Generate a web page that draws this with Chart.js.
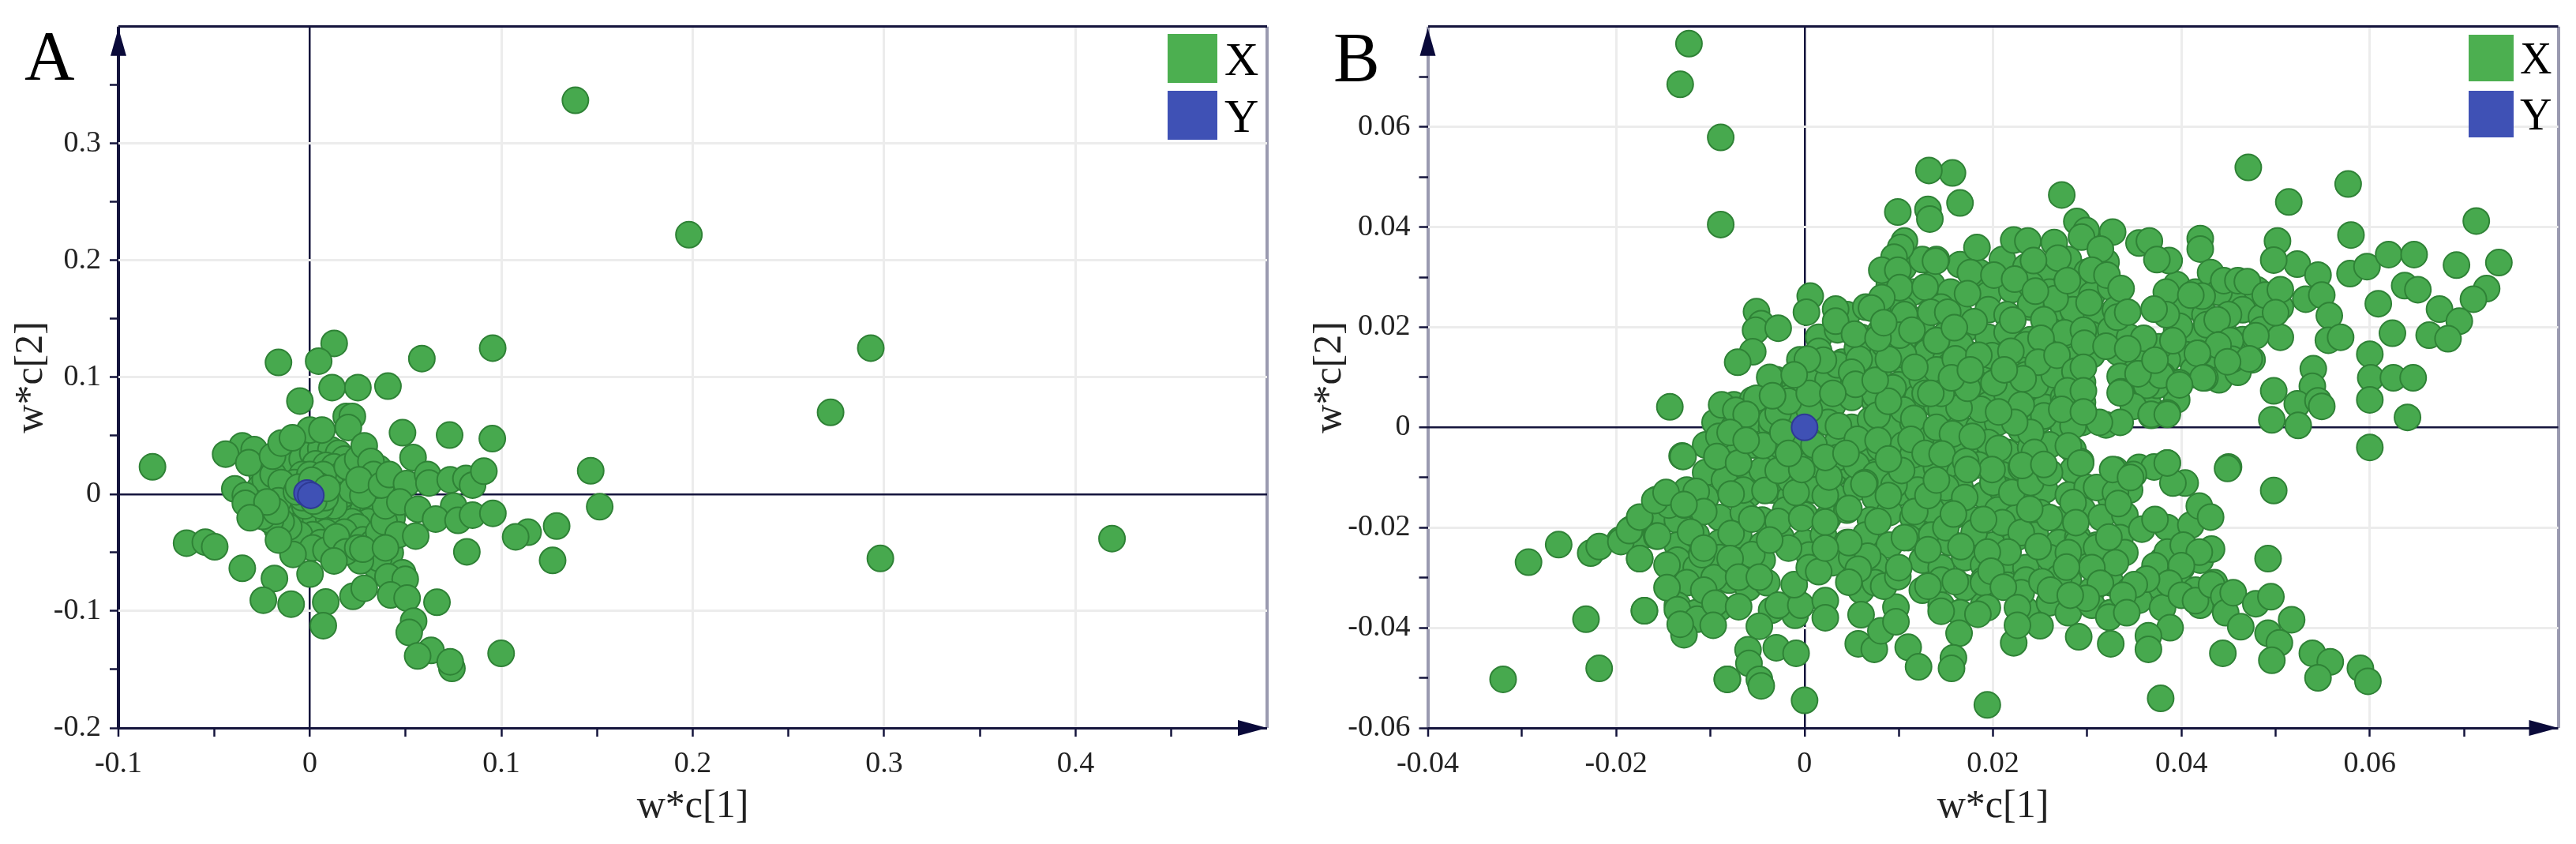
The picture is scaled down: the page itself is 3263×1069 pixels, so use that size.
<!DOCTYPE html>
<html>
<head>
<meta charset="utf-8">
<title>w*c loadings</title>
<script src="https://cdn.jsdelivr.net/npm/chart.js@4/dist/chart.umd.js"></script>
<style>
body{margin:0;background:#fff;}
canvas{position:absolute;top:0;}
#chartA{left:0;}
#chartB{left:1640px;}
</style>
</head>
<body>
<canvas id="chartA" width="1660" height="1069"></canvas>
<canvas id="chartB" width="1623" height="1069"></canvas>
<script>
var seriesNames=["X","Y"];
var xLabel="w*c[1]";
var yLabel="w*c[2]";

/*------------------ panel A ------------------*/
var xTicksA=[-0.1,0,0.1,0.2,0.3,0.4];
var yTicksA=[-0.2,-0.1,0,0.1,0.2,0.3];
var ringsA=[[.012,.012],[.015,.004],[.013,-.004],[.014,-.013],[.006,-.016],[-.001,-.014],[-.007,-.011],[-.012,-.005],[-.013,.006],[-.01,.016],[-.005,.022],[.002,.022],[.008,.02],[.014,.017],[.018,.009],[.021,-.002],[.019,-.014],[.012,-.025],[.004,-.027],[-.004,-.026],[-.012,-.02],[-.018,-.009],[-.019,.004],[-.016,.017],[-.011,.027],[-.004,.036],[.004,.042],[.012,.03],[.02,.018],[.026,.006],[.028,-.009],[.024,-.02],[.017,-.028],[.013,-.04],[.004,-.039],[-.003,-.042],[-.011,-.038],[-.017,-.03],[-.025,-.012],[-.028,0],[-.025,.017],[-.02,.026],[.03,.012],[.032,-.004],[.034,-.022],[.03,-.032],[.022,-.042],[.017,-.05],[.03,-.052],[.035,-.062],[.042,-.05],[.04,-.038],[.043,-.02],[.044,-.003],[.036,.022]];
var coreA=[[-.008,.026],[-.004,.03],[.0015,.035],[.0057,.039],[.011,.038],[.015,.035],[.018,.03],[.003,.026],[.0084,.0246],[.0126,.0235],[.0167,.0168],[.0195,.01],[-.004,.0168],[-.008,.01],[-.011,.001],[-.01,-.008],[-.008,-.0168],[-.0026,-.0213],[.003,-.0213],[.0098,-.02],[.0153,-.0157],[.0195,-.01],[.025,-.0078],[.0277,-.0146],[.033,-.0146],[.0305,-.0235],[.022,-.0235],[.025,-.028],[.018,-.0325],[.0084,-.0325],[.0015,-.0347],[-.0054,-.0347],[-.011,-.028],[-.015,-.0235],[-.0205,-.0224],[-.0247,-.019],[-.026,.0056],[-.0233,.0123],[-.0192,.0168],[-.015,.01],[-.0164,-.0056],[-.0178,-.0146],[.0057,-.0414],[.0015,-.0459],[.0084,-.048],[.0277,-.039],[.033,-.0414],[.036,-.0325],[.0388,-.0235],[.0395,-.01],[.0346,.0078],[.036,-.055],[.0264,-.057],[-.0026,.0078],[.0057,.0078],[.011,.0078],[.0167,-.001],[.0126,-.01],[-.0026,-.01],[.0057,-.01],[0,.0168],[.007,.0168],[.022,.0034],[.0277,-.001],[.0195,.0235],[.025,.03],[.002,.002],[-.003,.004],[.004,-.004],[-.004,-.003],[.006,.001],[-.007,.002],[.008,-.003],[-.006,.006],[.005,.007],[.002,-.006],[.001,.012],[.009,.005]];
var outerA=[[.0127,.129],[-.0164,.1127],[.0046,.1138],[.0585,.116],[.0955,.125],[.0116,.0912],[.0251,.0912],[.0408,.0925],[-.0052,.0797],[.019,.0665],[.0222,.0665],[.0201,.0571],[0,.0549],[.0063,.0549],[.0484,.0526],[.073,.0506],[.0953,.0475],[-.0353,.0414],[-.0291,.0381],[-.044,.0343],[-.0319,.0269],[-.0195,.0325],[-.015,.0437],[-.0091,.0482],[.0284,.0414],[.0539,.0314],[.0319,.028],[.0333,.0168],[.0257,.0123],[.0374,.0078],[.0415,.0168],[.0505,.009],[.0615,.0168],[.0622,.0096],[.0733,.0123],[.0815,.0134],[.085,.0078],[.0909,.0197],[-.0392,.0045],[-.0337,-.0011],[-.0337,-.0078],[-.0224,-.0067],[-.0312,-.0202],[.047,-.0067],[.0564,-.0128],[.0751,-.0101],[.0657,-.0213],[.0774,-.0224],[.085,-.0179],[.0956,-.0164],[.114,-.0325],[.1075,-.0365],[.1289,-.0273],[.1268,-.0567],[.082,-.0493],[.0461,-.0347],[.0553,-.0358],[.0139,-.0365],[-.0088,-.0515],[.0188,-.0493],[-.0164,-.0392],[.025,-.0459],[.0277,-.047],[.0395,-.0459],[.0126,-.0571],[.0484,-.0672],[.0408,-.0706],[.0498,-.0728],[.0001,-.0683],[-.0185,-.0721],[-.0353,-.0634],[-.0243,-.0907],[-.0098,-.0941],[.0083,-.0923],[.007,-.1125],[.0225,-.0874],[.0284,-.0806],[.0422,-.0862],[.0508,-.0889],[.0664,-.0925],[.0542,-.1086],[.0519,-.1183],[.0633,-.1337],[.0563,-.1384],[.0742,-.149],[.0733,-.1434],[.0999,-.1362],[-.0644,-.0419],[-.0546,-.041],[-.0497,-.045],[-.0822,.0234],[.1467,.02],[.1514,-.0107],[.1387,.337],[.198,.222],[.293,.125],[.272,.07],[.298,-.055],[.419,-.038]];
var yPointsA=[[-.0015,.001],[.0005,-.001]];

/*------------------ panel B ------------------*/
var xTicksB=[-0.04,-0.02,0,0.02,0.04,0.06];
var yTicksB=[-0.06,-0.04,-0.02,0,0.02,0.04,0.06];
var denseB=[
[.0105,.032],[.0125,.0335],[.0165,.0325],[.0185,.031],[.021,.0335],[.0235,.032],[.0255,.0315],[.028,.0335],[.03,.031],[.032,.033],
[.009,.0285],[.0115,.027],[.0135,.0285],[.0155,.027],[.018,.0285],[.0195,.0265],[.022,.0275],[.024,.0285],[.026,.027],[.0285,.0285],[.0305,.0265],[.0325,.028],[.0395,.0285],[.0415,.027],[.0435,.0285],[.0455,.0265],[.048,.0275],
[.0045,.0225],[.0065,.024],[.0085,.0225],[.0105,.0235],[.0125,.0215],[.0145,.024],[.0165,.0225],[.0195,.0235],[.0215,.0225],[.024,.024],[.026,.022],[.0285,.0235],[.031,.0225],[.033,.0235],[.0385,.0225],[.0405,.024],[.0425,.0225],[.0465,.0235],[.0485,.022],[.0505,.024],
[.0015,.018],[.0035,.0195],[.006,.018],[.008,.019],[.0105,.0175],[.0125,.019],[.015,.0185],[.017,.0195],[.0195,.018],[.0215,.019],[.024,.0175],[.026,.0195],[.028,.018],[.0305,.0185],[.0325,.0195],[.0345,.018],[.0395,.0195],[.0415,.018],[.0445,.019],[.0465,.0175],[.0485,.0195],[.0505,.018],
[-.0005,.0135],[.0015,.0145],[.004,.013],[.006,.015],[.0085,.014],[.0105,.013],[.013,.015],[.015,.0135],[.0175,.0145],[.0195,.013],[.022,.0145],[.024,.014],[.0265,.015],[.0285,.013],[.0305,.0145],[.0345,.0145],[.0365,.013],[.0405,.0145],[.043,.0135],[.0455,.015],[.0475,.0135],
[-.003,.0095],[-.001,.0085],[.001,.0105],[.0035,.009],[.0055,.0105],[.008,.0095],[.01,.0085],[.0125,.0105],[.0145,.009],[.017,.0105],[.019,.0095],[.0215,.0085],[.0235,.0105],[.026,.009],[.028,.0105],[.0295,.009],[.0345,.0095],[.0365,.0105],[.0395,.009],[.0415,.0105],[.044,.0095],[.046,.011],
[-.0075,.0045],[-.0055,.0055],[-.0035,.004],[-.0015,.006],[.0005,.005],[.003,.0045],[.005,.006],[.0075,.005],[.0095,.004],[.012,.006],[.014,.0045],[.0165,.0055],[.0185,.0045],[.021,.006],[.023,.005],[.0255,.004],[.0275,.006],[.0295,.005],[.0345,.006],[.0365,.0045],[.0395,.0055],
[-.0095,.001],[-.0075,0],[-.0055,.0015],[-.0035,0],[-.0015,.001],[.0005,-.0005],[.0025,.001],[.005,0],[.007,.0015],[.0095,0],[.0115,.001],[.014,-.0005],[.016,.0015],[.0185,0],[.0205,.001],[.023,-.0005],[.025,.0015],[.0275,0],[.0295,.001],[.032,.0005],
[-.0095,-.004],[-.0075,-.0055],[-.0055,-.0035],[-.003,-.005],[-.001,-.0035],[.0015,-.0045],[.0035,-.003],[.006,-.0055],[.008,-.004],[.0105,-.0035],[.0125,-.005],[.015,-.0035],[.017,-.0045],[.0195,-.003],[.0215,-.005],[.024,-.004],[.026,-.0035],[.0285,-.0045],
[-.0105,-.009],[-.008,-.0075],[-.006,-.0095],[-.004,-.008],[-.0015,-.009],[.0005,-.0075],[.003,-.0095],[.005,-.008],[.0075,-.009],[.0095,-.0075],[.012,-.0095],[.014,-.008],[.0165,-.009],[.0185,-.0075],[.021,-.0095],[.023,-.008],[.0255,-.009],[.0285,-.0085],[.033,-.0085],[.0355,-.008],
[-.0125,-.0125],[-.0105,-.014],[-.008,-.012],[-.006,-.0135],[-.0035,-.0125],[-.0015,-.014],[.001,-.0125],[.003,-.0135],[.0055,-.012],[.0075,-.014],[.01,-.013],[.012,-.0125],[.0145,-.014],[.0165,-.012],[.019,-.0135],[.021,-.0125],[.0235,-.014],[.0255,-.0125],[.028,-.0135],[.03,-.012],[.0325,-.014],[.0345,-.0125],
[-.0155,-.017],[-.0135,-.0185],[-.011,-.0165],[-.009,-.018],[-.0065,-.017],[-.0045,-.0185],[-.002,-.0165],[0,-.0175],[.0025,-.018],[.0045,-.0165],[.007,-.0185],[.009,-.017],[.0115,-.018],[.0135,-.0165],[.016,-.0175],[.018,-.0185],[.0205,-.0165],[.0225,-.018],[.025,-.017],[.027,-.0185],[.0295,-.0165],[.0315,-.018],[.034,-.0175],[.0385,-.02],[.041,-.0195],
[-.0175,-.022],[-.0135,-.0235],[-.0115,-.0215],[-.009,-.023],[-.007,-.0215],[-.0045,-.0235],[-.0025,-.022],[0,-.023],[.002,-.0215],[.0045,-.023],[.0065,-.0215],[.009,-.0235],[.011,-.022],[.0135,-.0215],[.0155,-.023],[.018,-.0215],[.02,-.0235],[.0225,-.022],[.0245,-.0215],[.027,-.023],[.029,-.022],[.031,-.0235],[.0335,-.022],
[-.0135,-.0265],[-.0115,-.028],[-.009,-.026],[-.007,-.0275],[-.0045,-.0265],[.0005,-.0255],[.003,-.027],[.005,-.026],[.0075,-.0275],[.0125,-.0265],[.0145,-.028],[.017,-.026],[.019,-.0275],[.0215,-.0265],[.0235,-.028],[.026,-.026],[.028,-.0275],[.0305,-.0265],[.0325,-.028],[.038,-.0265],[.04,-.028],[.042,-.0265],
[-.0125,-.031],[-.0105,-.0325],[-.008,-.0305],[-.006,-.032],[-.004,-.031],[.006,-.0325],[.0075,-.031],[.0125,-.0325],[.0145,-.0305],[.017,-.032],[.019,-.0305],[.0215,-.0315],[.0235,-.0305],[.026,-.032],[.028,-.0305],[.0305,-.0325],[.0325,-.031],[.0345,-.0325],[.0375,-.0315],[.0395,-.03],[.0415,-.0325],[.0435,-.031],
[-.0135,-.0355],[-.0115,-.037],[-.009,-.036],[-.0035,-.0365],[-.001,-.0375],[.0145,-.0355],[.0165,-.037],[.019,-.0355],[.0235,-.0365],[.026,-.035],[.028,-.037],[.0305,-.0355],[.0325,-.037],[.0355,-.0345],[.038,-.036],[.042,-.0355]
];
var fillB=[[-.0105,-.0035],[-.0085,-.0105],[-.0065,-.0125],[-.0045,-.0085],[-.0015,-.0105],[.001,-.0035],[.0035,-.006],[.0055,-.0075],[.0075,-.0095],[.0095,-.0115],[.0115,-.0055],[.0125,-.0015],[.0105,.0035],[.0075,.0065],[.0025,.0095],[.0005,.0035],[-.0035,.0015],[.0035,.0125],[.0065,.0135],[.0085,.0165],[.0105,.0145],[.0125,.0095],[.0145,.0035],[.0155,.0125],[.0165,.0165],[.0185,.0085],[.0195,.0045],[.0215,.0065],[.0235,.0165],[.0245,.0085],[.0265,.0105],[.0275,.0045],[.0285,.0135],[.0345,.0125],[.0365,.0135],[.0385,.0135],[.015,-.012],[.017,-.014],[.02,-.011],[.022,-.013],[.024,-.011],[.026,-.009],[.015,-.02],[.018,-.021],[.021,-.019],[.023,-.021],[.026,-.018],[.0285,-.015],[.031,-.012],[.033,-.013],[.029,-.023],[.031,-.024],[.034,-.025],[.033,-.027],[.0305,-.028],[.028,-.025],[.019,-.031],[.023,-.033],[.027,-.03]];
var leftB=[[-.0128,-.0155],[-.0115,-.0128],[-.0157,-.0144],[-.0144,-.0155],[-.0078,-.0133],[-.0042,-.0126],[.0064,-.011],[-.0028,-.0188],[-.0003,-.0181],[-.0078,-.0212],[-.0175,-.0181],[-.0185,-.0204],[-.0196,-.0225],[-.0157,-.0217],[-.0175,-.0262],[-.0109,-.0254],[-.0056,-.0254],[-.0146,-.0275],[-.0146,-.032],[-.0096,-.03],[-.0107,-.0325],[-.017,-.0366],[-.0135,-.0364],[-.0114,-.0383],[-.0095,-.0351],[-.007,-.0358],[-.0128,-.0414],[-.0132,-.0393],[-.0097,-.0395],[-.0048,-.0397],[-.0028,-.0355],[-.0004,-.0355],[-.0011,-.0314],[.0005,-.028],[.0015,-.0288],[.0022,-.0346],[.0022,-.038],[-.006,-.0444],[-.0059,-.0471],[-.003,-.044],[-.0009,-.0451],[-.0082,-.0503],[-.0048,-.0503],[-.0046,-.0516],[0,-.0545],[.006,-.0374],[.0057,-.0432],[.0074,-.0443],[.0081,-.0406],[.0097,-.0359],[.0097,-.0388],[.0084,-.0317],[.0099,-.0298],[.011,-.0439],[.0121,-.0478],[.0131,-.0317],[.0145,-.0367],[.0131,-.0244],[.0117,-.0168],[.0106,-.022],[.0067,-.0257],[.0057,-.0283],[.0047,-.023],[.0047,-.0309],[.01,-.028],[.0022,-.0189],[.0047,-.0162],[.0078,-.0188],[-.0056,-.0183],[-.0107,-.0168],[-.0121,-.0209],[-.0107,-.0241],[-.0079,-.0262],[-.007,-.0299],[-.0048,-.0299],[-.0017,-.0241],[-.0037,-.0225],[.0022,-.0241],[-.0009,-.013],[.0089,-.0136],[.0131,-.0136],[.0022,-.0136],[-.0261,-.0234],[-.0293,-.0269],[-.0227,-.0251],[-.0218,-.0238],[-.0195,-.0228],[-.0186,-.0206],[-.0175,-.0179],[-.0175,-.0262],[-.0156,-.0217],[-.0159,-.0146],[-.0147,-.013],[-.0128,-.0154],[-.013,-.0057],[-.0232,-.0383],[-.017,-.0366],[-.0218,-.0481],[-.032,-.0503],[-.0082,-.0503]];
var upperB=[[-.01227,.0766],[-.0132,.0685],[-.0089,.0579],[-.0089,.0405],[.0099,.043],[.0131,.0435],[.0133,.0416],[.0106,.0372],[.0102,.0359],[.0095,.034],[.0082,.0314],[.0099,.0314],[.0101,.0279],[.0128,.028],[.014,.0335],[.0082,.0259],[.0071,.0238],[.0106,.0225],[.0101,.0184],[.014,.0173],[.0114,.0194],[.0033,.0236],[.0033,.0212],[.0006,.0262],[.0002,.023],[-.0051,.0231],[-.0046,.0207],[-.0052,.0194],[-.0028,.0198],[-.0055,.0151],[-.0071,.013],[-.0037,.01],[.0015,.0152],[.002,.0134],[.0003,.0136],[.0056,.0157],[.0058,.0136],[.0053,.0186],[.005,.011],[.0054,.0086],[.0094,.0079],[.0128,.0068],[-.0143,.0041],[-.0088,.0045],[-.0073,.0034],[-.0028,.0029],[.0077,.0024],[.0116,.0018],[.0036,.0003],[.0056,-.0024],[.0113,-.0024],[-.0044,-.0036],[-.0091,-.0018],[-.0093,-.0058],[-.007,-.0071],[-.0129,-.0058],[-.0028,-.0086],[-.0003,-.0084],[.0026,-.0099],[.0063,-.0113],[.0103,-.0086],[.0022,-.006],[.0044,-.0052],[-.0017,.0052],[.0005,.0068],[.003,.0068],[-.0011,.0105],[-.0051,.0058],[-.0034,.0063],[-.0062,.0026],[-.0079,-.001],[-.0062,-.0026],[-.0023,-.001],[-.0017,-.0052],[.0078,-.0026],[.0089,-.0063],[.0128,-.0052],[.014,0],[.014,-.0105],[.0089,.0052],[.0075,.0094],[.014,.0115],[.0117,.012],[.0089,.0136],[.0078,.0178],[.0084,.0209],[.0134,.023]];
var centreB=[[.0273,.0464],[.0165,.0448],[.0157,.0508],[.0132,.0513],[.0183,.0359],[.0139,.0332],[.0176,.0309],[.0201,.0304],[.0223,.0296],[.0222,.0374],[.0237,.0372],[.0265,.0369],[.0269,.0338],[.0243,.0333],[.0289,.0411],[.0299,.0393],[.0294,.038],[.0327,.039],[.0314,.0356],[.0355,.0368],[.0366,.0372],[.0387,.0333],[.0374,.0335],[.042,.0377],[.042,.0356],[.0431,.0309],[.0305,.0314],[.0321,.0304],[.0336,.0277],[.0384,.027],[.0266,.0257],[.024,.0246],[.0302,.0249],[.0173,.0267],[.0152,.023],[.0245,.0272],[.0279,.0293],[.044,.027],[.0422,.0262],[.041,.0264],[.0445,.0293],[.046,.0293],[.0332,.022],[.0343,.023],[.0398,.0202],[.0427,.0205],[.045,.0225],[.0438,.0215],[.0384,.0225],[.0371,.0236],[.018,.0211],[.0221,.0214],[.0254,.0215],[.0276,.0189],[.0296,.0194],[.014,.0173],[.0251,.0178],[.0159,.0199],[.0376,.0161],[.0333,.015],[.036,.0178],[.0418,.0148],[.044,.0165],[.0452,.0173],[.0454,.0136],[.0391,.0173],[.016,.0137],[.0199,.0143],[.0185,.0144],[.0219,.0152],[.0248,.013],[.0268,.0144],[.0297,.0168],[.032,.0162],[.0343,.0157],[.0287,.0112],[.0296,.012],[.0355,.0107],[.038,.0104],[.0425,.0099],[.0413,.0115],[.0335,.0102],[.0336,.0071],[.0374,.0084],[.0398,.0089],[.0363,.0084],[.0349,.0042],[.0368,.0024],[.0385,.0029],[.0335,.001],[.0313,.001],[.0285,.0003],[.0254,.0023],[.023,.0045],[.0232,.0097],[.0187,.0036],[.0164,.0039],[.0157,-.0013],[.0178,-.0018],[.0145,.0068],[.0134,.0068],[.0173,.0078],[.0201,.0089],[.0212,.0115],[.0156,.0099],[.0176,.0115],[.0279,.0073],[.0296,.0073],[.0273,.0036],[.0296,.0031],[.024,-.001],[.0223,.001],[.0206,.0031],[.0146,-.0053],[.0171,-.0068],[.0206,-.0042],[.0244,-.005],[.0231,-.0076],[.0293,-.0068],[.028,-.0037],[.0327,-.0084],[.0385,-.0071],[.0371,-.0079],[.0349,-.0094],[.045,-.0079],[.0199,-.0084],[.0173,-.0084],[.0254,-.0074]];
var rightB=[[.0471,.0519],[.0577,.0486],[.0514,.045],[.058,.0384],[.0713,.0412],[.0502,.0372],[.0523,.0326],[.0545,.0304],[.0498,.0334],[.0579,.0307],[.0597,.0321],[.062,.0345],[.0647,.0345],[.0692,.0324],[.0737,.0329],[.0637,.0283],[.0651,.0275],[.0724,.0277],[.071,.0256],[.0674,.0236],[.0695,.0212],[.0609,.0247],[.0624,.0188],[.0663,.0184],[.0683,.0177],[.06,.0146],[.0601,.0099],[.0625,.0099],[.0646,.0099],[.06,.0055],[.064,.002],[.054,.0117],[.0539,.0082],[.0498,.0073],[.0523,.0047],[.0545,.0053],[.0549,.0042],[.0496,.0015],[.0524,.0004],[.047,.0291],[.0489,.0264],[.0505,.0275],[.0532,.0256],[.0549,.0264],[.0557,.0223],[.0556,.0174],[.0569,.018],[.05,.0229],[.0479,.0183],[.0472,.0137],[.0439,.0164],[.0417,.0148],[.0449,.0131],[.0423,.0099],[.0378,.0104],[.0398,.0085],[.0354,.0107],[.0372,.0134],[.0368,.0026],[.0385,.0026],[.0335,.0069],[.06,-.004],[.0449,-.0082],[.0498,-.0126],[.0492,-.0262],[.0404,-.0111],[.0391,-.0111],[.0419,-.0157],[.0431,-.0179],[.0385,-.0071],[.0346,-.01],[.0333,-.0152],[.0358,-.0203],[.0372,-.0184],[.0323,-.0219],[.0293,-.0071],[.0288,-.019],[.0248,-.0238],[.0278,-.0279],[.0314,-.0311],[.0252,-.0308],[.0216,-.0249],[.0194,-.0249],[.0166,-.0238],[.0239,-.0163],[.019,-.0184],[.0158,-.0173],[.0198,-.0287],[.016,-.0308],[.0211,-.0319],[.0194,-.036],[.0226,-.036],[.0385,-.0249],[.0402,-.0235],[.0432,-.0243],[.0419,-.0249],[.0372,-.0276],[.04,-.0276],[.0387,-.0311],[.0363,-.0303],[.035,-.0314],[.0338,-.0335],[.04,-.0335],[.0415,-.0346],[.0432,-.0314],[.0445,-.0338],[.0447,-.037],[.0455,-.033],[.0463,-.0398],[.0479,-.0352],[.0495,-.0338],[.0517,-.0384],[.0492,-.0411],[.0504,-.043],[.0496,-.0465],[.0539,-.0451],[.0558,-.0468],[.0545,-.05],[.059,-.0481],[.0598,-.0507],[.0444,-.0451],[.0388,-.04],[.0365,-.0416],[.0365,-.0443],[.0378,-.0541],[.0194,-.0554],[.0323,-.0379],[.0342,-.037],[.0325,-.0432],[.0291,-.0418],[.025,-.0396],[.0222,-.043],[.0226,-.0395],[.0164,-.0411],[.0158,-.046],[.0156,-.0481],[.0299,-.0341],[.0261,-.0325],[.0184,-.0373],[.0282,-.0335]];
var yPointsB=[[0,0]];

var font="'Liberation Serif','Times New Roman',serif";
var navy="#14143c";
var edgeGrey="#9a9ab0";

function toPoints(list){
    return list.map(function(p){return {x:p[0],y:p[1]};});
}
function near(a,b){return Math.abs(a-b)<1e-6;}

// grid colour and width depend on the tick: bounds and zero are axis lines, minor ticks have no grid
function gridStyle(major,low,high,lowColor,highColor){
    return {
        color:function(c){
            var v=c.tick.value;
            if(near(v,low))return lowColor;
            if(near(v,high))return highColor;
            if(near(v,0))return navy;
            return major.some(function(m){return near(m,v);})?"#ececec":"rgba(0,0,0,0)";
        },
        lineWidth:function(c){
            var v=c.tick.value;
            if(near(v,low)||near(v,high))return lowColor==edgeGrey||highColor==edgeGrey?4:3;
            if(near(v,0))return 2.5;
            return 3;
        },
        tickColor:function(c){
            return near(c.tick.value,high)?"rgba(0,0,0,0)":navy;
        },
        tickWidth:2.5,
        tickLength:11
    };
}

// axis arrows, panel letter, and the square legend
var decorations={
    id:"decorations",
    afterDraw:function(chart,args,o){
        var a=chart.chartArea,ctx=chart.ctx;
        ctx.save();
        ctx.fillStyle="#0a0a3a";
        ctx.beginPath();
        ctx.moveTo(a.left,a.top+2);
        ctx.lineTo(a.left-10,a.top+37);
        ctx.lineTo(a.left+10,a.top+37);
        ctx.closePath();
        ctx.fill();
        ctx.beginPath();
        ctx.moveTo(a.right,a.bottom);
        ctx.lineTo(a.right-37,a.bottom-10);
        ctx.lineTo(a.right-37,a.bottom+10);
        ctx.closePath();
        ctx.fill();
        ctx.fillStyle="#000";
        ctx.textBaseline="alphabetic";
        ctx.textAlign="left";
        ctx.font=o.letterSize+"px "+font;
        ctx.fillText(o.letter,o.letterX,o.letterY);
        ctx.font=o.legendFont+"px "+font;
        chart.data.datasets.forEach(function(ds,i){
            var y=o.legendY[i];
            ctx.fillStyle=ds.legendColor;
            ctx.fillRect(o.legendX,y,o.legendW,o.legendH);
            ctx.fillStyle="#000";
            ctx.fillText(ds.label,o.legendX+o.legendW+o.legendGap,y+o.legendH-10);
        });
        ctx.restore();
    }
};

function makeChart(id,xPts,yPts,cfg){
    var xTicks=cfg.xTicks,yTicks=cfg.yTicks;
    function label(list){
        return function(v){
            for(var i=0;i<list.length;i++){
                if(near(list[i],v))return String(list[i]);
            }
            return "";
        };
    }
    return new Chart(document.getElementById(id),{
        type:"scatter",
        data:{datasets:[
            {label:seriesNames[0],data:toPoints(xPts),order:2,legendColor:"#4caf50",
             backgroundColor:"#47a94e",borderColor:"#2f8236",borderWidth:2,pointRadius:16.5},
            {label:seriesNames[1],data:toPoints(yPts),order:1,legendColor:"#3f51b5",
             backgroundColor:"#3f51b5",borderColor:"#2e3a94",borderWidth:2,pointRadius:16.5}
        ]},
        options:{
            responsive:false,
            animation:false,
            events:[],
            layout:{autoPadding:false,padding:cfg.padding},
            plugins:{
                legend:{display:false},
                tooltip:{enabled:false},
                decorations:cfg.deco
            },
            scales:{
                x:{
                    type:"linear",
                    min:cfg.xMin,max:cfg.xMax,
                    border:{display:false},
                    grid:gridStyle(xTicks,cfg.xMin,cfg.xMax,cfg.leftColor,edgeGrey),
                    ticks:{stepSize:cfg.xStep,autoSkip:false,maxRotation:0,minRotation:0,padding:12,
                        color:"#222",font:{family:font,size:38},callback:label(xTicks)},
                    title:{display:true,text:xLabel,color:"#222",font:{family:font,size:50},padding:{top:0,bottom:17}},
                    afterFit:function(s){s.height=147;}
                },
                y:{
                    type:"linear",
                    min:cfg.yMin,max:cfg.yMax,
                    border:{display:false},
                    grid:gridStyle(yTicks,cfg.yMin,cfg.yMax,navy,navy),
                    ticks:{stepSize:cfg.yStep,autoSkip:false,padding:11,
                        color:"#222",font:{family:font,size:38},callback:label(yTicks)},
                    title:{display:true,text:yLabel,color:"#222",font:{family:font,size:50},padding:{top:0,bottom:0}},
                    afterFit:function(s){s.width=cfg.yWidth;}
                }
            }
        },
        plugins:[decorations]
    });
}

makeChart("chartA",ringsA.concat(coreA,outerA),yPointsA,{
    xTicks:xTicksA,yTicks:yTicksA,xMin:-0.1,xMax:0.5,xStep:0.05,yMin:-0.2,yMax:0.4,yStep:0.05,
    leftColor:navy,yWidth:140,
    padding:{left:10,right:55,top:32,bottom:0},
    deco:{letter:"A",letterSize:88,letterX:31,letterY:100,
        legendX:1479,legendY:[43,115],legendW:63,legendH:62,legendFont:60,legendGap:9}
});
makeChart("chartB",denseB.concat(fillB,leftB,upperB,centreB,rightB),yPointsB,{
    xTicks:xTicksB,yTicks:yTicksB,xMin:-0.04,xMax:0.08,xStep:0.01,yMin:-0.06,yMax:0.08,yStep:0.01,
    leftColor:edgeGrey,yWidth:153.5,
    padding:{left:15,right:22.5,top:32,bottom:0},
    deco:{letter:"B",letterSize:88,letterX:49,letterY:102,
        legendX:1487,legendY:[44,115],legendW:57,legendH:59,legendFont:56,legendGap:8}
});
</script>
</body>
</html>
